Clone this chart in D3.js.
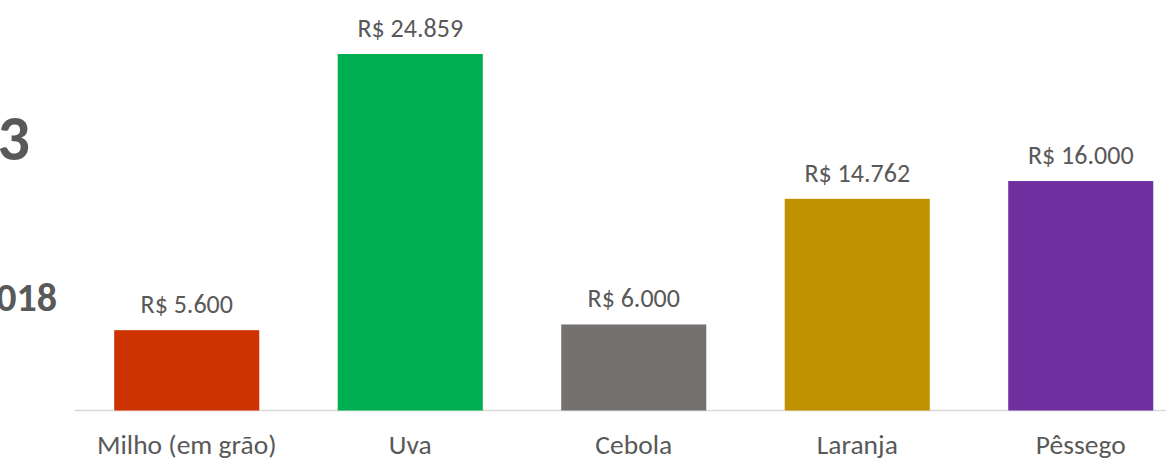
<!DOCTYPE html>
<html><head><meta charset="utf-8">
<script src="https://cdn.jsdelivr.net/npm/d3@7"></script>
<style>body{margin:0;background:#fff}svg{display:block}</style>
</head><body>
<svg id="c" width="1166" height="460"></svg>
<script>
const categories = ["Milho (em grão)", "Uva", "Cebola", "Laranja", "Pêssego"];
const values = [5600, 24859, 6000, 14762, 16000];
const valueLabels = ["R$ 5.600", "R$ 24.859", "R$ 6.000", "R$ 14.762", "R$ 16.000"];
const colors = ["#CC3300", "#00B050", "#767171", "#BF9000", "#7030A0"];
const sideTexts = ["3", "018"];

const svg = d3.select("#c");
const font = "Carlito, Calibri, Lato, sans-serif";
const x = d3.scaleBand().domain(categories).range([75, 1192.5]).paddingInner(0.351).paddingOuter(0.1755);
const y = d3.scaleLinear().domain([0, 24859]).range([410.5, 54]);

svg.append("line").attr("x1", 75).attr("x2", 1166).attr("y1", 410.5).attr("y2", 410.5)
  .attr("stroke", "#D9D9D9").attr("stroke-width", 1.5);

svg.selectAll("rect.bar").data(values).join("rect").attr("class","bar")
  .attr("x", (d,i) => x(categories[i])).attr("width", x.bandwidth())
  .attr("y", d => y(d)).attr("height", d => y(0) - y(d))
  .attr("fill", (d,i) => colors[i]);

svg.selectAll("text.val").data(values).join("text").attr("class","val")
  .attr("x", (d,i) => x(categories[i]) + x.bandwidth()/2)
  .attr("y", d => y(d) - 17)
  .attr("text-anchor","middle").attr("font-family", font).attr("font-size", 26).attr("fill","#595959")
  .text((d,i) => valueLabels[i]);

svg.selectAll("text.cat").data(categories).join("text").attr("class","cat")
  .attr("x", d => x(d) + x.bandwidth()/2).attr("y", 454)
  .attr("text-anchor","middle").attr("font-family", font).attr("font-size", 27.5).attr("fill","#595959")
  .text(d => d);

svg.append("text").attr("x", 30).attr("y", 160).attr("text-anchor","end")
  .attr("font-family", font).attr("font-weight","bold").attr("font-size", 64).attr("fill","#595959").text(sideTexts[0]);
svg.append("text").attr("x", 57).attr("y", 311).attr("text-anchor","end")
  .attr("font-family", font).attr("font-weight","bold").attr("font-size", 40).attr("fill","#595959").text(sideTexts[1]);
</script>
</body></html>
